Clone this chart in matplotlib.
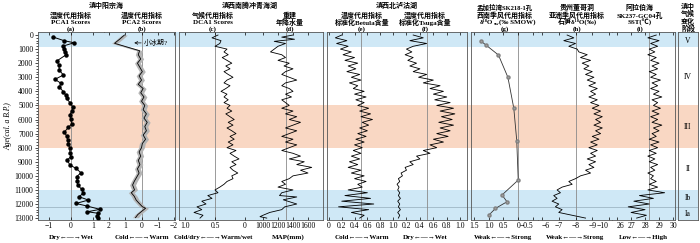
import numpy as np
import matplotlib.pyplot as plt

plt.rcParams['font.family'] = ['Liberation Serif', 'Noto Sans CJK SC', 'DejaVu Serif']

# ---- data ----
a_age = [150, 400, 550, 780, 1000, 1200, 1420, 1850, 2130, 2490, 2840, 3150, 3430, 3670, 4030, 4260, 4500,
         4800, 5140, 5400, 5680, 5990, 6320, 6560, 6890, 7170, 7460, 7760, 8050, 8360, 8640, 8880, 9230,
         9470, 9780, 10060, 10370, 10650, 10960, 11240, 11480, 11720, 11960, 12150, 12380, 12550, 12660,
         12850, 13020]
a_pca1 = [-0.8, -0.32, 0.14, -0.35, -0.3, -0.26, -0.24, -0.65, -0.55, -0.53, -0.35, -0.73, -0.45, -0.53,
          -0.35, -0.24, -0.2, -0.05, 0.1, 0.03, -0.05, -0.01, 0.03, -0.12, -0.3, -0.2, -0.15, -0.12, -0.05,
          -0.05, -0.01, -0.17, -0.05, 0.23, 0.45, 0.26, 0.29, 0.3, 0.49, 0.56, 0.36, 0.79, 0.23, 0.74, 1.32,
          0.74, 1.24, 1.17, 1.24]

b_age = [0, 300, 590, 945, 1115, 1400, 1700, 2000, 2300, 2600, 2900, 3200, 3500, 3800, 4100, 4400, 4700,
         5000, 5300, 5600, 5900, 6200, 6500, 6800, 7100, 7400, 7700, 8000, 8300, 8600, 8900, 9200, 9500,
         9800, 10100, 10400, 10650, 11000, 11200, 11450, 11720, 11950, 12200, 12300, 12550, 12750, 12970]
b_pca2 = [1.05, 1.35, 1.66, 0.62, 0.12, 0.2, 0.05, 0.25, 0.1, -0.05, 0.15, 0.0, 0.2, -0.1, 0.05, -0.15, 0.0,
          -0.2, -0.1, -0.3, -0.15, -0.35, -0.2, -0.3, -0.1, -0.25, -0.05, 0.0, 0.15, 0.05, 0.2, 0.1, 0.25,
          0.15, 0.3, 0.45, 0.55, 0.43, 0.63, 0.45, 0.33, 0.15, -0.06, -0.25, 0.02, 0.23, 0.37]

c_age = list(range(0, 13001, 200))
c_dca1 = [0.45, 0.55, 0.40, 0.42, 0.50, 0.30, 0.35, 0.28, 0.38, 0.30, 0.22, 0.32, 0.25, 0.35, 0.28, 0.20,
          0.30, 0.35, 0.25, 0.32, 0.40, 0.30, 0.35, 0.28, 0.35, 0.25, 0.30, 0.22, 0.32, 0.25, 0.18, 0.28,
          0.20, 0.30, 0.22, 0.15, 0.25, 0.18, 0.28, 0.20, 0.30, 0.15, 0.25, 0.18, 0.10, 0.22, 0.15, 0.25,
          0.20, 0.12, 0.22, 0.20, 0.30, 0.35, 0.42, 0.50, 0.45, 0.62, 0.55, 0.72, 0.65, 0.80, 0.72, 0.85,
          0.70, 0.75]

d_age = [0, 150, 300, 450, 600, 800, 1000, 1200, 1400, 1600, 1800, 2000, 2200, 2400, 2600, 2800, 3000,
         3200, 3400, 3600, 3800, 4000, 4200, 4400, 4600, 4800, 5000, 5200, 5400, 5600, 5800, 6000, 6200,
         6400, 6600, 6800, 7000, 7200, 7400, 7600, 7800, 8000, 8200, 8400, 8600, 8800, 9000, 9200, 9400,
         9600, 9800, 10000, 10200, 10400, 10600, 10800, 11000, 11200, 11400, 11500, 11700, 12000, 12200,
         12400, 12600, 12800, 12900, 13000]
d_map = [1400, 1250, 1420, 1150, 1300, 1200, 1150, 1100, 1250, 1300, 1200, 1350, 1280, 1400, 1300, 1250,
         1350, 1450, 1300, 1250, 1350, 1400, 1300, 1380, 1250, 1300, 1350, 1250, 1400, 1300, 1450, 1350,
         1500, 1400, 1300, 1450, 1350, 1250, 1400, 1300, 1450, 1350, 1250, 1400, 1500, 1350, 1550, 1450,
         1650, 1500, 1600, 1400, 1350, 1250, 1300, 1200, 1400, 1250, 1220, 1450, 1270, 1450, 1290, 1250,
         1090, 1000, 960, 1050]

e_age = list(range(0, 13001, 200))
e_betula = [0.20, 0.10, 0.28, 0.12, 0.30, 0.18, 0.35, 0.22, 0.40, 0.25, 0.45, 0.30, 0.42, 0.28, 0.48, 0.35,
            0.50, 0.32, 0.45, 0.38, 0.55, 0.40, 0.58, 0.42, 0.55, 0.45, 0.62, 0.48, 0.65, 0.50, 0.68, 0.52,
            0.62, 0.48, 0.60, 0.45, 0.58, 0.42, 0.55, 0.40, 0.52, 0.38, 0.50, 0.35, 0.48, 0.32, 0.45, 0.30,
            0.50, 0.35, 0.55, 0.40, 0.58, 0.45, 0.52, 0.30, 0.60, 0.25, 0.65, 0.20, 0.70, 0.15, 0.62, 0.35,
            0.55, 0.48]

f_age = list(range(0, 13001, 200))
f_tsuga = [0.30, 0.45, 0.25, 0.50, 0.30, 0.20, 0.28, 0.18, 0.30, 0.22, 0.35, 0.25, 0.40, 0.30, 0.50, 0.38,
           0.60, 0.45, 0.70, 0.55, 0.75, 0.60, 0.80, 0.62, 0.85, 0.65, 0.90, 0.70, 0.92, 0.72, 0.88, 0.68,
           0.90, 0.70, 0.85, 0.65, 0.82, 0.60, 0.75, 0.55, 0.65, 0.45, 0.55, 0.35, 0.40, 0.25, 0.30, 0.18,
           0.20, 0.12, 0.14, 0.08, 0.10, 0.06, 0.09, 0.07, 0.10, 0.08, 0.11, 0.07, 0.10, 0.08, 0.11, 0.07,
           0.10, 0.08]

g_age = [420, 700, 1420, 3000, 5200, 7500, 10300, 11360, 11840, 12310, 12780]
g_d18o = [1.27, 1.1, 0.67, 0.35, 0.15, 0.05, 0.0, 0.55, 0.38, 0.77, 0.99]

h_age = list(range(0, 13001, 200))
h_d18o = [-7.5, -7.9, -7.3, -8.0, -7.6, -8.1, -8.2, -8.7, -8.3, -8.9, -8.4, -8.8, -8.5, -9.0, -8.6, -9.1,
          -8.7, -9.2, -8.8, -9.3, -8.9, -9.2, -8.8, -9.3, -8.9, -9.4, -9.0, -9.5, -9.1, -9.6, -9.2, -9.5,
          -9.1, -9.6, -9.2, -9.5, -9.0, -9.4, -8.9, -9.3, -8.8, -9.3, -8.9, -9.2, -8.7, -9.2, -8.8, -9.1,
          -8.6, -8.9, -8.3, -8.0, -7.6, -7.8, -7.2, -6.9, -7.1, -6.7, -6.9, -6.6, -7.0, -6.8, -7.2, -7.0,
          -7.8, -8.6]

i_age = list(range(0, 13001, 200))
i_sst = [28.8, 28.2, 29.0, 28.4, 28.9, 28.3, 28.7, 28.2, 28.8, 28.4, 29.0, 28.5, 28.9, 28.3, 28.8, 28.4,
         29.1, 28.5, 28.9, 28.4, 29.0, 28.6, 29.2, 28.5, 28.9, 28.6, 29.1, 28.5, 29.0, 28.4, 28.9, 28.5,
         29.2, 28.6, 29.0, 28.5, 28.8, 28.3, 29.0, 28.4, 28.9, 28.3, 28.8, 28.2, 28.7, 28.3, 28.9, 28.4,
         28.7, 28.2, 28.6, 28.4, 28.8, 28.3, 28.9, 28.2, 29.4, 27.6, 28.6, 27.2, 28.3, 26.8, 28.0, 27.0,
         28.1, 27.4]

stage_names = ['V', 'IV', 'III', 'II', 'Ib', 'Ia']
stage_mid = [400, 3000, 6500, 9500, 11600, 12700]

# ---- layout in pixels of the 700x243 picture ----
W, H = 700, 243
Y0, Y1 = 32.2, 220.2
YLIM = (13150, -200)
BLUE = '#cfe8f6'
ORANGE = '#f9d7c3'
GREY = '#8a8a8a'

fig = plt.figure(figsize=(7.0, 2.43), dpi=100)


def px_axes(x0, x1):
    ax = fig.add_axes([x0 / W, 1 - Y1 / H, (x1 - x0) / W, (Y1 - Y0) / H])
    ax.set_ylim(*YLIM)
    ax.patch.set_alpha(0)
    return ax


bg = px_axes(38, 698)
bg.set_xlim(0, 1)
bg.axhspan(-200, 850, color=BLUE, lw=0)
bg.axhspan(5000, 8000, color=ORANGE, lw=0)
bg.axhspan(11000, 13150, color=BLUE, lw=0)
bg.axhline(12200, color='#9fb6c4', lw=0.6)
bg.axis('off')


def panel(x0, x1, xlim, ticks, ref, left=True, right=True, labels=None, align=None):
    ax = px_axes(x0, x1)
    ax.set_xlim(*xlim)
    ax.set_xticks(ticks)
    if labels is not None:
        ax.set_xticklabels(labels)
    if align:
        for lab, ha in zip(ax.get_xticklabels(), align):
            lab.set_ha(ha)
    ax.axvline(ref, color=GREY, lw=0.6, zorder=1)
    ax.spines['left'].set_visible(left)
    ax.spines['right'].set_visible(right)
    for s in ax.spines.values():
        s.set_linewidth(0.6)
        s.set_color('#555555')
    ax.tick_params(axis='x', direction='in', top=True, bottom=True, length=2, width=0.5,
                   labelsize=5.5, pad=1.5)
    ax.tick_params(axis='y', left=False, labelleft=False)
    return ax


ax_a = panel(38, 104, (-1.5, 1.5), [-1, 0, 1], 0, right=False)
ax_a.plot(a_pca1, a_age, '-o', color='black', lw=0.7, ms=2.2)
ax_a.set_yticks(range(0, 13001, 1000))
ax_a.set_yticks(range(0, 13001, 200), minor=True)
ax_a.tick_params(axis='y', which='both', left=True, labelleft=True, direction='out', labelsize=5.5,
                 width=0.5, pad=1)
ax_a.tick_params(axis='y', which='major', length=2.5)
ax_a.tick_params(axis='y', which='minor', length=1.5)

ax_b = panel(104, 175, (2.31, -2.06), [2, 1, 0, -1, -2], 0, left=False)
ax_b.fill_betweenx(b_age, np.array(b_pca2) - 0.18, np.array(b_pca2) + 0.18, color='#b5b5b5', lw=0)
ax_b.plot(b_pca2, b_age, color='black', lw=0.6)
ax_b.annotate('小冰期?', xy=(0.45, 560), xytext=(-0.15, 560), fontsize=5, va='center',
              arrowprops=dict(arrowstyle='->', lw=0.5, color='black', shrinkA=0, shrinkB=0))

ax_c = panel(179, 245, (1.1, 0.0), [1.0, 0.5, 0], 0.5, right=False, labels=['1.0', '0.5', '0'])
ax_c.plot(c_dca1, c_age, color='black', lw=0.6)

ax_d = panel(245, 323, (760, 1800), [1000, 1200, 1400, 1600], 1310, left=False)
ax_d.plot(d_map, d_age, color='black', lw=0.6)

ax_e = panel(327, 393, (-0.03, 1.0), [0, 0.2, 0.4, 0.6, 0.8, 1.0], 0.5, right=False,
             labels=['0', '0.2', '0.4', '0.6', '0.8', '1.0'])
ax_e.plot(e_betula, e_age, color='black', lw=0.6)

ax_f = panel(393, 467, (0, 1.1), [0.2, 0.4, 0.6, 0.8, 1.0], 0.5, left=False,
             labels=['0.2', '0.4', '0.6', '0.8', '1.0'])
ax_f.plot(f_tsuga, f_age, color='black', lw=0.6)

ax_g = panel(471, 538, (1.6, -0.67), [1.5, 1.0, 0.5, 0, -0.5], 0, right=False,
             labels=['1.5', '1.0', '0.5', '0', '\u22120.5'],
             align=['center', 'center', 'center', 'center', 'right'])
ax_g.plot(g_d18o, g_age, '-o', color='#333333', lw=0.6, ms=2.2, mfc='#a0a0a0', mec='#808080')

ax_h = panel(538, 612, (-5.76, -10.18), [-6, -7, -8, -9, -10], -8, left=False, right=False,
             align=['left', 'center', 'center', 'center', 'right'])
ax_h.plot(h_d18o, h_age, color='black', lw=0.6)

ax_i = panel(612, 675, (25.64, 30.14), [26, 27, 28, 29, 30], 28.3, left=False,
             align=['left', 'center', 'center', 'center', 'center'])
ax_i.plot(i_sst, i_age, color='black', lw=0.6)

ax_s = px_axes(678, 698)
ax_s.set_xlim(0, 1)
ax_s.set_xticks([])
ax_s.set_yticks([])
for s in ax_s.spines.values():
    s.set_linewidth(0.6)
    s.set_color('#555555')
for name, yy in zip(stage_names, stage_mid):
    ax_s.text(0.5, yy, name, ha='center', va='center', fontsize=5.5)

# ---- headers ----
ROWS = [5, 15.5, 22.5, 29]
ROWS2 = [7.5, 15.5, 22.5, 29]


def head(xc, lines, rows=ROWS, size=5):
    for t, yy in zip(lines, rows):
        if t:
            fig.text(xc / W, 1 - yy / H, t, ha='center', va='center', fontsize=size, fontweight='bold')


head(106, ['滇中阳宗海'])
head(71, ['', '湿度代用指标', 'PCA1 Scores', '(a)'])
head(142, ['', '温度代用指标', 'PCA2 Scores', '(b)'])
head(250, ['滇西南腾冲青海湖'])
head(213, ['', '气候代用指标', 'DCA1 Scores', '(c)'])
head(290, ['', '重建', '年降水量', '(d)'])
head(397, ['滇西北泸沽湖'])
head(362, ['', '温度代用指标', '标准化Betula含量', '(e)'])
head(425, ['', '湿度代用指标', '标准化Tsuga含量', '(f)'])
head(505, ['孟加拉湾SK218-1孔'], rows=[7], size=4.7)
head(505, ['', '西南季风代用指标', '', '(g)'], rows=ROWS2)
# delta line of (g): pieces so that "sw" sits as a subscript without mathtext
t_d = fig.text(480 / W, 1 - 22.5 / H, 'δ¹⁸O', ha='left', va='center', fontsize=5, fontweight='bold')
t_sw = bg.annotate('sw', xy=(1, 0), xycoords=t_d, xytext=(0.1, -0.6), textcoords='offset points',
                   ha='left', va='bottom', fontsize=3.6, fontweight='bold', annotation_clip=False)
bg.annotate('(‰ SMOW)', xy=(1, 0), xycoords=t_sw, xytext=(0.2, 0.6), textcoords='offset points',
            ha='left', va='bottom', fontsize=5, fontweight='bold', annotation_clip=False)
head(577, ['贵州董哥洞', '亚洲季风代用指标', '石笋δ¹⁸O(‰)', '(h)'], rows=ROWS2)
head(640, ['阿拉伯海', 'SK237-GC04孔', 'SST(℃)', '(i)'], rows=ROWS2)
head(688, ['滇中', '气候', '变化', '阶段'], rows=[6, 13.5, 21, 28.5])

fig.text(8 / W, 1 - 126 / H, 'Age(cal. a B.P.)', rotation=90, ha='center', va='center', fontsize=5.5,
         style='italic')

for xc, t in [(71, 'Dry←—→Wet'), (142, 'Cold←—→Warm'), (213, 'Cold/dry←—→Warm/wet'),
              (288, 'MAP(mm)'), (362, 'Cold←—→Warm'), (425, 'Dry←—→Wet'),
              (503, 'Weak←—→Strong'), (575, 'Weak←—→Strong'), (643, 'Low←—→High')]:
    fig.text(xc / W, 1 - 237 / H, t, ha='center', va='center', fontsize=5, fontweight='bold')

fig.savefig('out.png', dpi=100)
